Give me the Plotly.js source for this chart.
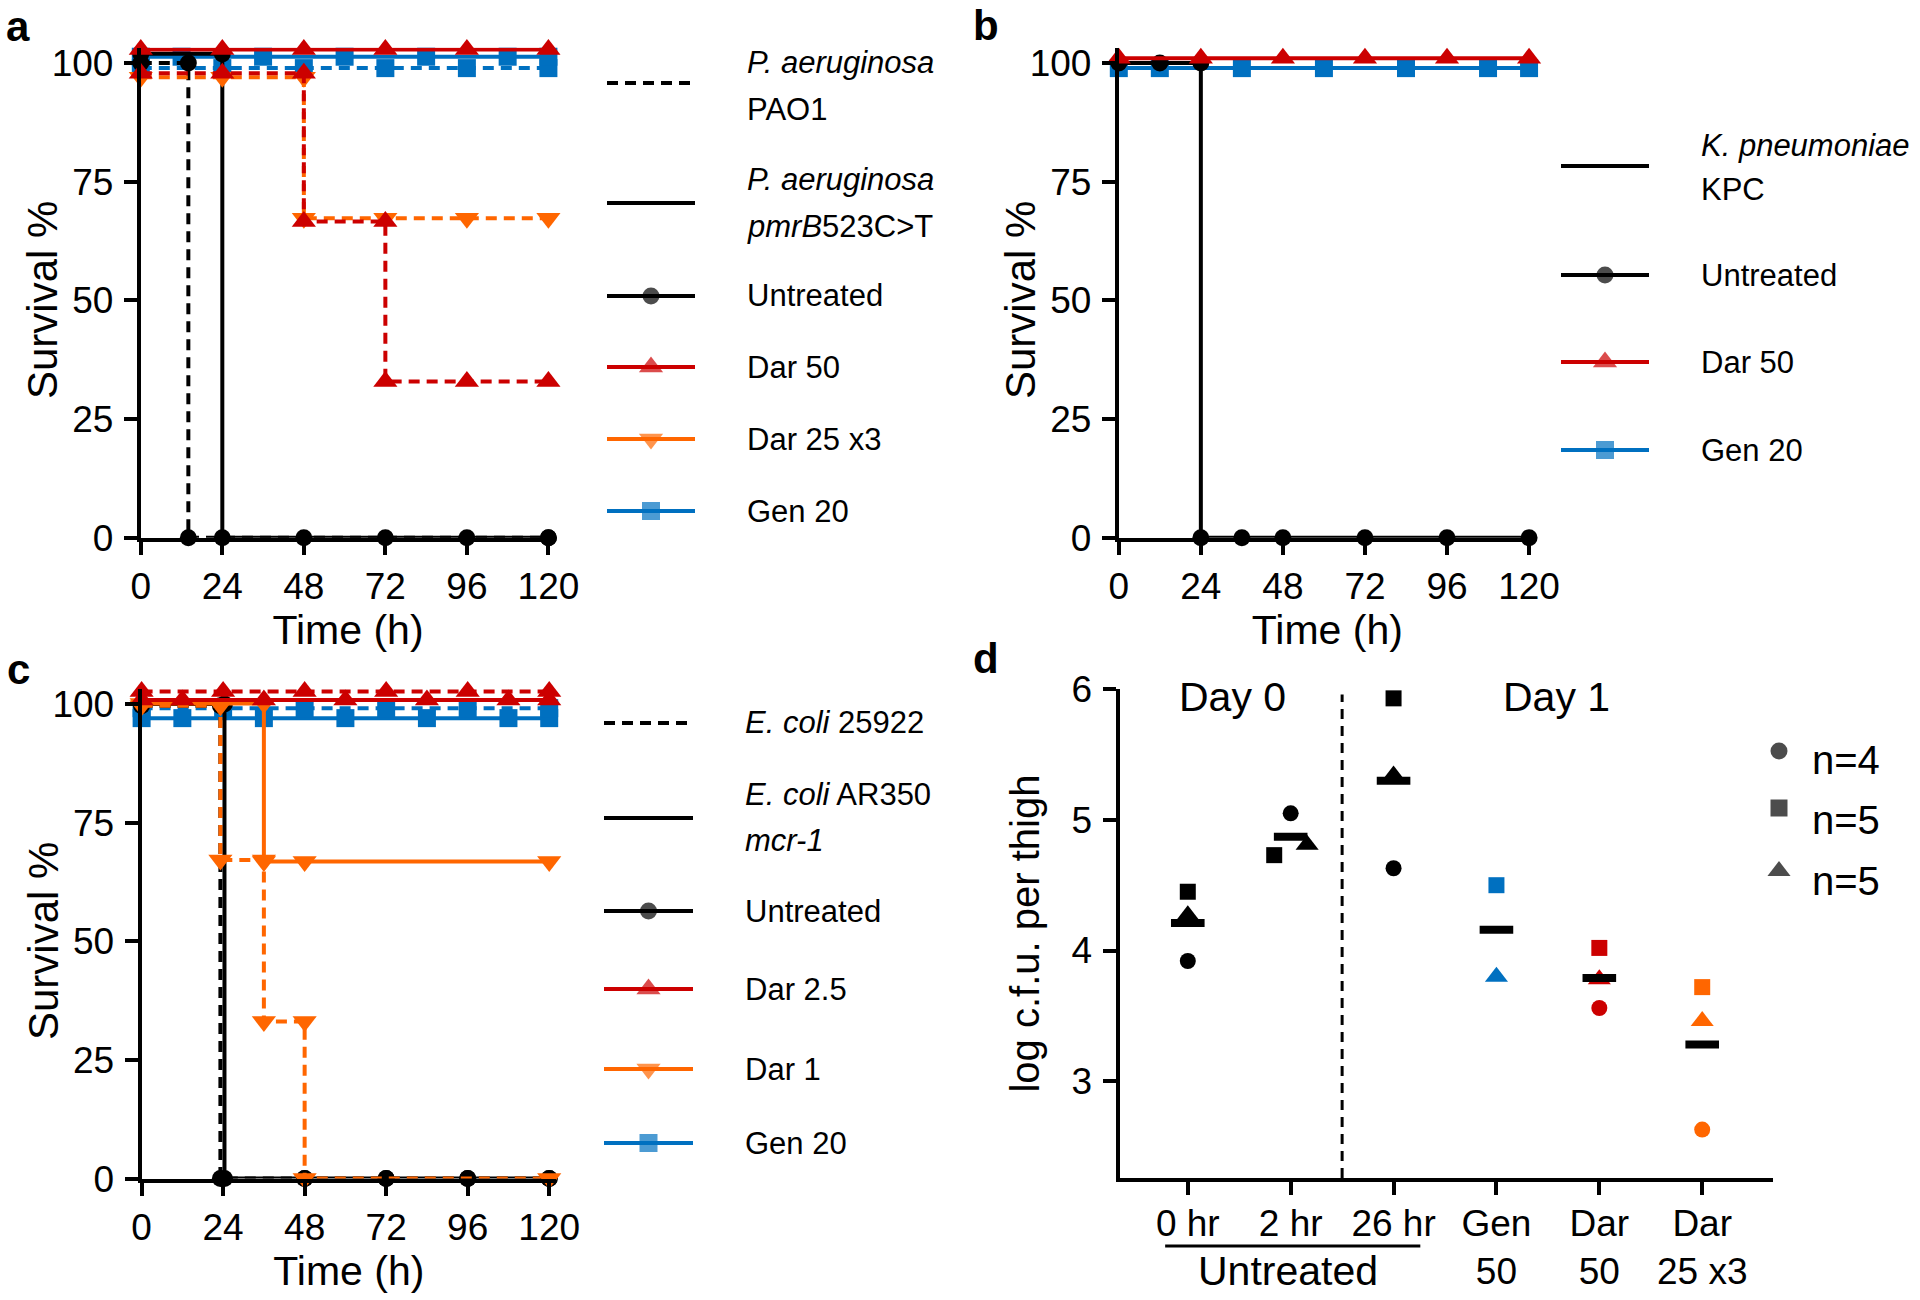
<!DOCTYPE html>
<html>
<head>
<meta charset="utf-8">
<script src="https://cdn.plot.ly/plotly-3.0.1.min.js"></script>
<style>
html,body{margin:0;padding:0;background:#ffffff;}
#chart{width:1920px;height:1300px;}
</style>
</head>
<body>
<div id="chart"></div>
<script>
// ======================= DATA =======================
// Survival panels: time (h) and survival (%) of each Kaplan-Meier curve
const survTickVals = [0, 24, 48, 72, 96, 120];
const survYTickVals = [0, 25, 50, 75, 100];

// ---- Panel a : P. aeruginosa PAO1 (dashed) / pmrB523C>T (solid)
const a_gen20_pao1_t = [0, 24, 48, 72, 96, 120];
const a_gen20_pao1_s = [98.9, 98.9, 98.9, 98.9, 98.9, 98.9];
const a_gen20_pmrb_t = [0, 12, 36, 60, 84, 108, 120];
const a_gen20_pmrb_s = [101.3, 101.3, 101.3, 101.3, 101.3, 101.3, 101.3];
const a_untr_pao1_t = [0, 14, 14, 120];
const a_untr_pao1_s = [100, 100, 0, 0];
const a_untr_pmrb_t = [0, 24, 24, 48, 72, 96, 120];
const a_untr_pmrb_s = [101.9, 101.9, 0, 0, 0, 0, 0];
const a_dar25x3_pao1_t = [0, 24, 48, 48, 72, 96, 120];
const a_dar25x3_pao1_s = [97.0, 97.0, 97.0, 67.3, 67.3, 67.3, 67.3];
const a_dar50_pao1_t = [0, 24, 48, 48, 72, 72, 96, 120];
const a_dar50_pao1_s = [97.8, 97.8, 97.8, 66.6, 66.6, 32.9, 32.9, 32.9];
const a_dar50_pmrb_t = [0, 24, 48, 72, 96, 120];
const a_dar50_pmrb_s = [102.8, 102.8, 102.8, 102.8, 102.8, 102.8];

// ---- Panel b : K. pneumoniae KPC (solid)
const b_gen20_t = [0, 12, 36, 60, 84, 108, 120];
const b_gen20_s = [98.9, 98.9, 98.9, 98.9, 98.9, 98.9, 98.9];
const b_untr_t = [0, 12, 24, 24, 36, 48, 72, 96, 120];
const b_untr_s = [100, 100, 100, 0, 0, 0, 0, 0, 0];
const b_dar50_t = [0, 24, 48, 72, 96, 120];
const b_dar50_s = [101.0, 101.0, 101.0, 101.0, 101.0, 101.0];

// ---- Panel c : E. coli 25922 (dashed) / AR350 mcr-1 (solid)
const c_gen20_ar350_t = [0, 12, 36, 60, 84, 108, 120];
const c_gen20_ar350_s = [97.0, 97.0, 97.0, 97.0, 97.0, 97.0, 97.0];
const c_gen20_25922_t = [0, 24, 48, 72, 96, 120];
const c_gen20_25922_s = [99.1, 99.1, 99.1, 99.1, 99.1, 99.1];
const c_untr_ar350_t = [0, 24.4, 24.4, 48, 72, 96, 120];
const c_untr_ar350_s = [100, 100, 0, 0, 0, 0, 0];
const c_untr_25922_t = [0, 23.2, 23.2, 48, 72, 96, 120];
const c_untr_25922_s = [99.6, 99.6, 0, 0, 0, 0, 0];
const c_dar1_ar350_t = [0, 36, 36, 48, 120];
const c_dar1_ar350_s = [100.1, 100.1, 66.8, 66.8, 66.8];
const c_dar1_25922_t = [0, 23.2, 23.2, 36, 36, 48, 48, 120];
const c_dar1_25922_s = [99.6, 99.6, 67.1, 67.1, 33.1, 33.1, 0, 0];
const c_dar25_ar350_t = [0, 12, 36, 60, 84, 108, 120];
const c_dar25_ar350_s = [100.8, 100.8, 100.8, 100.8, 100.8, 100.8, 100.8];
const c_dar25_25922_t = [0, 24, 48, 72, 96, 120];
const c_dar25_25922_s = [102.6, 102.6, 102.6, 102.6, 102.6, 102.6];

// ---- Panel d : log c.f.u. per thigh
const d_categories = ['0 hr', '2 hr', '26 hr', 'Gen<br>50', 'Dar<br>50', 'Dar<br>25 x3'];
const d_circle_n4 = [3.92, 5.05, 4.63, null, 3.56, 2.63];
const d_square_n5 = [4.45, 4.73, 5.93, 4.50, 4.02, 3.72];
const d_triangle_n5 = [4.27, 4.81, 5.34, 3.80, 3.78, 3.46];
const d_means = [4.21, 4.87, 5.30, 4.16, 3.79, 3.28];
const d_yTicks = [3, 4, 5, 6];

// Legend labels
const legendA_labels = [['<i>P. aeruginosa</i>', 'PAO1'], ['<i>P. aeruginosa</i>', '<i>pmrB</i>523C&gt;T'], ['Untreated'], ['Dar 50'], ['Dar 25 x3'], ['Gen 20']];
const legendB_labels = [['<i>K. pneumoniae</i>', 'KPC'], ['Untreated'], ['Dar 50'], ['Gen 20']];
const legendC_labels = [['<i>E. coli</i> 25922'], ['<i>E. coli</i> AR350', '<i>mcr-1</i>'], ['Untreated'], ['Dar 2.5'], ['Dar 1'], ['Gen 20']];
const legendD_labels = ['n=4', 'n=5', 'n=5'];

// ======================= STYLE =======================
const FONT = '"Liberation Sans", Arial, Helvetica, sans-serif';
const BLACK = '#000000', RED = '#CC0000', ORANGE = '#FF6600', BLUE = '#0070C0';
const LW = 4;
const DASH = '11px,7px';
const TREAT = {
  untr:  {color: BLACK,  symbol: 'circle',        size: 17},
  dar:   {color: RED,    symbol: 'triangle-up',   size: 21},
  darlo: {color: ORANGE, symbol: 'triangle-down', size: 21},
  gen:   {color: BLUE,   symbol: 'square',        size: 18}
};

function surv(t, s, treat, dashed, n) {
  const st = TREAT[treat];
  return {
    type: 'scatter', mode: 'lines+markers', x: t, y: s,
    xaxis: 'x' + (n === 1 ? '' : n), yaxis: 'y' + (n === 1 ? '' : n),
    line: {color: st.color, width: LW, dash: dashed ? DASH : 'solid', shape: 'hv'},
    marker: {color: st.color, symbol: st.symbol, size: st.size, line: {width: 0}},
    cliponaxis: false, showlegend: false, hoverinfo: 'x+y'
  };
}

const traces = [
  // panel a
  surv(a_gen20_pao1_t, a_gen20_pao1_s, 'gen', true, 1),
  surv(a_gen20_pmrb_t, a_gen20_pmrb_s, 'gen', false, 1),
  surv(a_untr_pao1_t, a_untr_pao1_s, 'untr', true, 1),
  surv(a_untr_pmrb_t, a_untr_pmrb_s, 'untr', false, 1),
  surv(a_dar25x3_pao1_t, a_dar25x3_pao1_s, 'darlo', true, 1),
  surv(a_dar50_pao1_t, a_dar50_pao1_s, 'dar', true, 1),
  surv(a_dar50_pmrb_t, a_dar50_pmrb_s, 'dar', false, 1),
  // panel b
  surv(b_gen20_t, b_gen20_s, 'gen', false, 2),
  surv(b_untr_t, b_untr_s, 'untr', false, 2),
  surv(b_dar50_t, b_dar50_s, 'dar', false, 2),
  // panel c
  surv(c_gen20_ar350_t, c_gen20_ar350_s, 'gen', false, 3),
  surv(c_gen20_25922_t, c_gen20_25922_s, 'gen', true, 3),
  surv(c_untr_ar350_t, c_untr_ar350_s, 'untr', false, 3),
  surv(c_untr_25922_t, c_untr_25922_s, 'untr', true, 3),
  surv(c_dar1_ar350_t, c_dar1_ar350_s, 'darlo', false, 3),
  surv(c_dar1_25922_t, c_dar1_25922_s, 'darlo', true, 3),
  surv(c_dar25_ar350_t, c_dar25_ar350_s, 'dar', false, 3),
  surv(c_dar25_25922_t, c_dar25_25922_s, 'dar', true, 3)
];

// ---- panel d scatter
const dColors = [BLACK, BLACK, BLACK, BLUE, RED, ORANGE];
const dIdx = d_categories.map((c, i) => i);
const dJitterSquare = [0, -0.16, 0, 0, 0, 0];
const dJitterTriangle = [0, 0.16, 0, 0, 0, 0];
const dJitterNone = [0, 0, 0, 0, 0, 0];
function dTrace(vals, jit, symbol, size) {
  return {
    type: 'scatter', mode: 'markers', xaxis: 'x4', yaxis: 'y4',
    x: dIdx.map((i) => i + jit[i]), y: vals,
    marker: {symbol: symbol, size: size, color: dColors, line: {width: 0}},
    cliponaxis: false, showlegend: false, hoverinfo: 'y'
  };
}
traces.push(dTrace(d_circle_n4, dJitterNone, 'circle', 16));
traces.push(dTrace(d_square_n5, dJitterSquare, 'square', 16));
traces.push(dTrace(d_triangle_n5, dJitterTriangle, 'triangle-up', 20));
traces.push({
  type: 'scatter', mode: 'markers', xaxis: 'x4', yaxis: 'y4', x: dIdx, y: d_means,
  marker: {symbol: 'line-ew', size: 24, color: BLACK, line: {width: 8, color: BLACK}},
  cliponaxis: false, showlegend: false, hoverinfo: 'y'
});

// ---- custom legends (drawn on an overlay pixel axis)
const annotations = [];
function addLegend(spec, labels, styles, dashes) {
  spec.rows.forEach((row, k) => {
    const st = styles[k];
    const xs = [spec.x0, (spec.x0 + spec.x1) / 2, spec.x1];
    const tr = {
      type: 'scatter', mode: st ? 'lines+markers' : 'lines', xaxis: 'x5', yaxis: 'y5',
      x: xs, y: [row.y, row.y, row.y],
      line: {color: st ? st.color : BLACK, width: LW, dash: dashes[k] ? DASH : 'solid'},
      cliponaxis: false, showlegend: false, hoverinfo: 'skip'
    };
    if (st) tr.marker = {symbol: st.symbol, size: [0, st.size, 0], color: st.color, line: {width: 0}};
    traces.push(tr);
    const lines = labels[k];
    lines.forEach((txt, j) => {
      const ty = lines.length === 1 ? row.ty : row.ty + (j - (lines.length - 1) / 2) * spec.lineGap;
      annotations.push({
        xref: 'paper', yref: 'paper', x: spec.tx / 1920, y: 1 - ty / 1300,
        xanchor: 'left', yanchor: 'middle', showarrow: false, text: txt,
        font: {family: FONT, size: 31, color: BLACK}
      });
    });
  });
}
addLegend({x0: 607, x1: 695, tx: 745, lineGap: 46,
  rows: [{y: 83, ty: 86}, {y: 203, ty: 203}, {y: 296, ty: 296}, {y: 367, ty: 367}, {y: 439, ty: 439}, {y: 511, ty: 511}]},
  legendA_labels, [null, null, TREAT.untr, TREAT.dar, TREAT.darlo, TREAT.gen], [true, false, false, false, false, false]);
addLegend({x0: 1561, x1: 1649, tx: 1699, lineGap: 44,
  rows: [{y: 166, ty: 167}, {y: 275, ty: 275}, {y: 362, ty: 362}, {y: 450, ty: 450}]},
  legendB_labels, [null, TREAT.untr, TREAT.dar, TREAT.gen], [false, false, false, false]);
addLegend({x0: 604, x1: 693, tx: 743, lineGap: 46,
  rows: [{y: 723, ty: 722}, {y: 818, ty: 817}, {y: 911, ty: 911}, {y: 989, ty: 989}, {y: 1069, ty: 1069}, {y: 1143, ty: 1143}]},
  legendC_labels, [null, null, TREAT.untr, TREAT.dar, TREAT.darlo, TREAT.gen], [true, false, false, false, false, false]);

// panel d legend
const dLegSymbols = ['circle', 'square', 'triangle-up'];
const dLegRows = [{y: 751, ty: 760}, {y: 808, ty: 820}, {y: 871, ty: 881}];
traces.push({
  type: 'scatter', mode: 'markers', xaxis: 'x5', yaxis: 'y5',
  x: dLegRows.map(() => 1779), y: dLegRows.map((r) => r.y),
  marker: {symbol: dLegSymbols, size: [17, 17, 20], color: BLACK, line: {width: 0}},
  cliponaxis: false, showlegend: false, hoverinfo: 'skip'
});
legendD_labels.forEach((txt, k) => {
  annotations.push({xref: 'paper', yref: 'paper', x: 1810 / 1920, y: 1 - dLegRows[k].ty / 1300,
    xanchor: 'left', yanchor: 'middle', showarrow: false, text: txt,
    font: {family: FONT, size: 40, color: BLACK}});
});

// panel letters
[['a', 18, 27], ['b', 986, 25], ['c', 18, 670], ['d', 986, 658]].forEach((p) => {
  annotations.push({xref: 'paper', yref: 'paper', x: p[1] / 1920, y: 1 - p[2] / 1300,
    xanchor: 'center', yanchor: 'middle', showarrow: false, text: '<b>' + p[0] + '</b>',
    font: {family: FONT, size: 42, color: BLACK}});
});

// survival y-axis titles (placed as rotated labels beside each axis)
[[42, 300], [1020, 300], [43, 941]].forEach((p) => {
  annotations.push({xref: 'paper', yref: 'paper', x: p[0] / 1920, y: 1 - p[1] / 1300,
    xanchor: 'center', yanchor: 'middle', showarrow: false, text: 'Survival %', textangle: -90,
    font: {family: FONT, size: 42, color: BLACK}});
});

// panel d texts
annotations.push({xref: 'x4', yref: 'y4', x: 0.43, y: 5.94, text: 'Day 0', showarrow: false,
  xanchor: 'center', yanchor: 'middle', font: {family: FONT, size: 41, color: BLACK}});
annotations.push({xref: 'x4', yref: 'y4', x: 3.58, y: 5.94, text: 'Day 1', showarrow: false,
  xanchor: 'center', yanchor: 'middle', font: {family: FONT, size: 41, color: BLACK}});
annotations.push({xref: 'x4', yref: 'paper', x: 0.97, y: 1 - 1271 / 1300, text: 'Untreated', showarrow: false,
  xanchor: 'center', yanchor: 'middle', font: {family: FONT, size: 41, color: BLACK}});

// ======================= AXES =======================
function survX(dom, anchor) {
  return {domain: dom, anchor: anchor, range: [0, 122], tickmode: 'array', tickvals: survTickVals,
    ticks: 'outside', ticklen: 13, tickwidth: LW, tickcolor: BLACK, showline: true, linewidth: LW,
    linecolor: BLACK, showgrid: false, zeroline: false, fixedrange: true,
    tickfont: {family: FONT, size: 37, color: BLACK}, ticklabelstandoff: 0,
    title: {text: 'Time (h)', font: {family: FONT, size: 41, color: BLACK}, standoff: 4}};
}
function survY(dom, anchor) {
  return {domain: dom, anchor: anchor, range: [0, 103.2], tickmode: 'array', tickvals: survYTickVals,
    ticks: 'outside', ticklen: 13, tickwidth: LW, tickcolor: BLACK, showline: true, linewidth: LW,
    linecolor: BLACK, showgrid: false, zeroline: false, fixedrange: true,
    tickfont: {family: FONT, size: 37, color: BLACK}, ticklabelstandoff: 3};
}

const yTopDomA = [1 - 537.7 / 1300, 1 - 47.7 / 1300];
const layout = {
  width: 1920, height: 1300, margin: {l: 0, r: 0, t: 0, b: 0, pad: 0},
  paper_bgcolor: '#ffffff', plot_bgcolor: 'rgba(0,0,0,0)',
  font: {family: FONT, color: BLACK},
  showlegend: false,
  xaxis: survX([140.8 / 1920, 555.2 / 1920], 'y'),
  yaxis: survY(yTopDomA, 'x'),
  xaxis2: survX([1118.8 / 1920, 1535.9 / 1920], 'y2'),
  yaxis2: survY(yTopDomA, 'x2'),
  xaxis3: survX([141.6 / 1920, 556.0 / 1920], 'y3'),
  yaxis3: survY([1 - 1178.6 / 1300, 1 - 688.7 / 1300], 'x3'),
  xaxis4: {domain: [1120.4 / 1920, 1773.2 / 1920], anchor: 'y4', range: [-0.655, 5.69],
    tickmode: 'array', tickvals: dIdx, ticktext: d_categories,
    ticks: 'outside', ticklen: 13, tickwidth: LW, tickcolor: BLACK, showline: true, linewidth: LW,
    linecolor: BLACK, showgrid: false, zeroline: false, fixedrange: true,
    tickfont: {family: FONT, size: 37, color: BLACK}, ticklabelstandoff: -3},
  yaxis4: {domain: [1 - 1177.9 / 1300, 1 - 689.2 / 1300], anchor: 'x4', range: [2.26, 6],
    tickmode: 'array', tickvals: d_yTicks,
    ticks: 'outside', ticklen: 13, tickwidth: LW, tickcolor: BLACK, showline: true, linewidth: LW,
    linecolor: BLACK, showgrid: false, zeroline: false, fixedrange: true,
    tickfont: {family: FONT, size: 37, color: BLACK}, ticklabelstandoff: 4,
    title: {text: 'log c.f.u. per thigh', font: {family: FONT, size: 40, color: BLACK}, standoff: 20}},
  xaxis5: {domain: [0, 1], anchor: 'y5', range: [0, 1920], visible: false, fixedrange: true},
  yaxis5: {domain: [0, 1], anchor: 'x5', range: [1300, 0], visible: false, fixedrange: true},
  annotations: annotations,
  shapes: [
    {type: 'line', xref: 'x4', yref: 'y4', x0: 1.5, x1: 1.5, y0: 2.26, y1: 5.96,
      line: {color: BLACK, width: 3, dash: '10px,7px'}},
    {type: 'line', xref: 'x4', yref: 'paper', x0: -0.22, x1: 2.26, y0: 1 - 1246 / 1300, y1: 1 - 1246 / 1300,
      line: {color: BLACK, width: 3}}
  ]
};

Plotly.newPlot('chart', traces, layout, {displayModeBar: false, staticPlot: true});
</script>
</body>
</html>
